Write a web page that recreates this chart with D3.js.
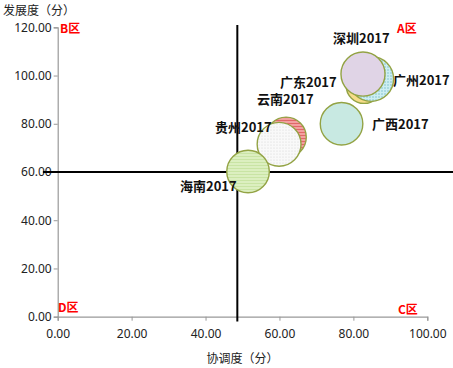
<!DOCTYPE html>
<html><head><meta charset="utf-8">
<script src="https://cdn.jsdelivr.net/npm/d3@7"></script>
<style>
body{margin:0;background:#fff;}
svg{display:block;font-family:"Noto Sans CJK SC","DejaVu Sans",sans-serif;}
</style></head>
<body><svg id="c" width="453" height="368"></svg>
<script>
// Data (draw order back to front)
const regions = ["广东2017","广州2017","深圳2017","广西2017","云南2017","贵州2017","海南2017"];
const coordination = [82.9, 84.8, 82.6, 76.8, 61.8, 59.9, 51.5]; // 协调度
const development = [95.9, 98.6, 100.6, 80.0, 74.4, 71.5, 60.2]; // 发展度
const bubbleSize = [70, 109, 105, 98, 88, 104, 98];
const fills = ["#f6dc88", "url(#pDots)", "#e0d4e6", "#c8e9e2", "url(#pStripes)", "url(#pWhite)", "url(#pGreen)"];
const labelPos = [[280,87],[393,85],[333,43],[372,129],[257,104],[215,132],[180,191]];
const xTicks = [0,20,40,60,80,100];
const yTicks = [0,20,40,60,80,100,120];
const meanX = 48.6, meanY = 60;
const zones = [{t:"A区",x:397,y:33},{t:"B区",x:60,y:33},{t:"C区",x:398,y:314},{t:"D区",x:58,y:312}];

const svg = d3.select("#c");
const x = d3.scaleLinear().domain([0,100]).range([57.7,427.3]);
const y = d3.scaleLinear().domain([0,120]).range([316.7,27.3]);
const r = d3.scaleSqrt().domain([0,100]).range([0,21.5]);

const defs = svg.append("defs");
let p = defs.append("pattern").attr("id","pDots").attr("width",3).attr("height",3).attr("patternUnits","userSpaceOnUse");
p.append("rect").attr("width",3).attr("height",3).attr("fill","#cdeef2");
p.append("circle").attr("cx",1).attr("cy",1).attr("r",0.7).attr("fill","#6fb8c8");
p = defs.append("pattern").attr("id","pStripes").attr("width",3).attr("height",3).attr("patternUnits","userSpaceOnUse");
p.append("rect").attr("width",3).attr("height",3).attr("fill","#f2a0a0");
p.append("rect").attr("width",3).attr("height",1).attr("fill","#e06868");
p = defs.append("pattern").attr("id","pWhite").attr("width",3).attr("height",3).attr("patternUnits","userSpaceOnUse");
p.append("rect").attr("width",3).attr("height",3).attr("fill","#f9f9f9");
p.append("circle").attr("cx",1).attr("cy",1).attr("r",0.5).attr("fill","#cfcfcf");
p = defs.append("pattern").attr("id","pGreen").attr("width",3).attr("height",3).attr("patternUnits","userSpaceOnUse");
p.append("rect").attr("width",3).attr("height",3).attr("fill","#dcefc0");
p.append("rect").attr("width",3).attr("height",1).attr("fill","#c9e4a4");

// axes
const xa = svg.append("g").attr("transform",`translate(0,${y(0)})`)
  .call(d3.axisBottom(x).tickValues(xTicks).tickFormat(d3.format(".2f")).tickSize(4));
const ya = svg.append("g").attr("transform",`translate(${x(0)},0)`)
  .call(d3.axisLeft(y).tickValues(yTicks).tickFormat(d3.format(".2f")).tickSize(4));
[xa,ya].forEach(a=>{
  a.select(".domain").attr("stroke","#999").attr("stroke-width",1.2);
  a.selectAll(".tick line").attr("stroke","#999");
  a.selectAll("text").attr("fill","#222").style("font-size","12px").style("font-family","'Noto Sans','DejaVu Sans',sans-serif");
});
xa.selectAll("text").attr("dy","1.2em");
ya.selectAll("text").attr("x",-6);

// mean lines
svg.append("line").attr("x1",x(-4)).attr("x2",453).attr("y1",y(meanY)).attr("y2",y(meanY)).attr("stroke","#000").attr("stroke-width",2);
svg.append("line").attr("x1",x(meanX)).attr("x2",x(meanX)).attr("y1",y(121)).attr("y2",y(-2)).attr("stroke","#000").attr("stroke-width",2);

// bubbles
const data = regions.map((n,i)=>({n, cx:coordination[i], cy:development[i], s:bubbleSize[i], f:fills[i], lp:labelPos[i]}));
svg.append("g").selectAll("circle").data(data).join("circle")
  .attr("cx",d=>x(d.cx)).attr("cy",d=>y(d.cy)).attr("r",d=>r(d.s))
  .attr("fill",d=>d.f).attr("stroke","#93a344").attr("stroke-width",1.4);

// labels
svg.append("g").selectAll("text").data(data).join("text")
  .attr("x",d=>d.lp[0]).attr("y",d=>d.lp[1]).text(d=>d.n)
  .attr("font-size",13).attr("font-weight","bold").attr("fill","#111");

svg.append("g").selectAll("text").data(zones).join("text")
  .attr("x",d=>d.x).attr("y",d=>d.y).text(d=>d.t)
  .attr("font-size",12).attr("font-weight","bold").attr("fill","#ff0000");

svg.append("text").attr("x",3).attr("y",15).text("发展度（分）").attr("font-size",12).attr("fill","#222");
svg.append("text").attr("x",(x(0)+x(100))/2).attr("y",363).attr("text-anchor","middle").text("协调度（分）").attr("font-size",12).attr("fill","#222");
</script></body></html>
